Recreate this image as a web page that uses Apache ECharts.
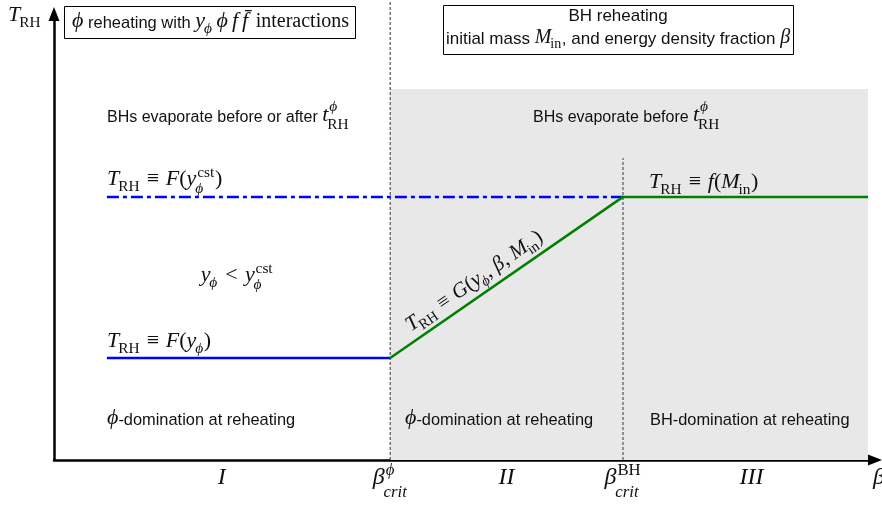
<!DOCTYPE html>
<html>
<head>
<meta charset="utf-8">
<script src="https://cdn.jsdelivr.net/npm/echarts@6/dist/echarts.min.js"></script>
<style>
  html, body { margin: 0; padding: 0; background: #fff; }
  #chart { width: 882px; height: 505px; }
</style>
</head>
<body>
<div id="chart"></div>
<script>
// ---- schematic values (axis units: β runs 0..100, T_RH runs 0..100) ----
const betaMax = 100;
const betaLineStart = 6.5;   // where the T_RH curves begin
const betaCritPhi = 41.3;    // β_crit^ϕ
const betaCritBH = 69.9;     // β_crit^BH
const trhLow = 23.2;         // T_RH ≡ F(y_ϕ)
const trhHigh = 59.8;        // T_RH ≡ F(y_ϕ^cst) = f(M_in)
const shadeTop = 84.3;       // top of the "BHs evaporate before" band
const critBHTop = 68.6;      // end of the β_crit^BH divider
const critPhiTop = 104.5;    // β_crit^ϕ divider runs up past the axis top

const blueLow = [[betaLineStart, trhLow], [betaCritPhi, trhLow]];
const blueCst = [[betaLineStart, trhHigh], [betaCritBH, trhHigh]];
const greenPath = [[betaCritPhi, trhLow], [betaCritBH, trhHigh], [betaMax, trhHigh]];
const critPhiLine = [[betaCritPhi, 0], [betaCritPhi, critPhiTop]];
const critBHLine = [[betaCritBH, 0], [betaCritBH, critBHTop]];
const shadeBox = [[betaCritPhi, shadeTop], [betaMax, 0]];

// β-axis labels: regions I, II, III and the two critical values
const tickValues = [20.6, betaCritPhi, 55.6, betaCritBH, 85.7, 101.1];
const tickLabels = [
  [{ t: 'I' }],
  [{ t: 'β', sup: { t: 'ϕ', k: 'mi' }, sub: { t: 'crit', k: 'mi' }, subDy: 0.52, supDy: -0.42 }],
  [{ t: 'II' }],
  [{ t: 'β', sup: { t: 'BH', k: 'rm' }, sub: { t: 'crit', k: 'mi' }, subDy: 0.52, supDy: -0.42 }],
  [{ t: 'III' }],
  [{ t: 'β' }]
];

// ---- text helpers: small inline-math layout built from zrender text pieces ----
const SERIF = '"Liberation Serif", "DejaVu Serif", serif';
const SANS = '"Liberation Sans", "DejaVu Sans", sans-serif';
const INK = '#111';
const MATH = 22, SANSZ = 16.4, TICK = 24;
const TOP = 100;
const mctx = document.createElement('canvas').getContext('2d');

function fontOf(k, size) {
  const style = k === 'mi' ? 'italic ' : '';
  const fam = k === 'sf' ? SANS : SERIF;
  return style + size + 'px ' + fam;
}
function textW(t, font) { mctx.font = font; return mctx.measureText(t).width; }
function glyph(t, font, size, x, base) {
  return {
    type: 'text', x: x, y: base - 0.34 * size, silent: true, z: TOP,
    style: { text: t, font: font, fill: INK, align: 'left', verticalAlign: 'middle' }
  };
}
function mathRun(parts, size, sansSize) {
  const kids = [];
  let x = 0;
  parts.forEach(p => {
    if (p.sp) { x += p.sp * size; return; }
    const k = p.k || 'mi';
    const sz = p.z || (k === 'sf' ? (sansSize || SANSZ) : size);
    const f = fontOf(k, sz);
    kids.push(glyph(p.t, f, sz, x, 0));
    x += textW(p.t, f);
    const ss = sz * 0.7;
    const both = p.sub && p.sup;
    let sw = 0;
    if (p.sub) {
      const sf = fontOf(p.sub.k || 'rm', ss);
      const dx = k === 'mi' ? -0.05 * sz : 0;
      const dy = p.subDy != null ? p.subDy : (both ? 0.32 : 0.22);
      kids.push(glyph(p.sub.t, sf, ss, x + dx, dy * sz));
      sw = Math.max(sw, textW(p.sub.t, sf) + dx);
    }
    if (p.sup) {
      const sf = fontOf(p.sup.k || 'rm', ss);
      const dx = 0.04 * sz;
      const dy = p.supDy != null ? p.supDy : -0.42;
      kids.push(glyph(p.sup.t, sf, ss, x + dx, dy * sz));
      sw = Math.max(sw, textW(p.sup.t, sf) + dx);
    }
    x += sw + ((p.sub || p.sup) ? 0.03 * sz : 0);
  });
  return { kids: kids, width: x };
}
function label(parts, x, base, opts) {
  opts = opts || {};
  const run = mathRun(parts, opts.size || MATH, opts.sansSize);
  let left = x;
  if (opts.align === 'center') left = x - run.width / 2;
  return { el: { type: 'group', x: left, y: base, z: TOP, rotation: opts.rotation || 0, children: run.kids }, width: run.width, left: left };
}

// common pieces
const TRH = { t: 'T', sub: { t: 'RH', k: 'rm' } };
const EQUIV = [{ sp: 0.05 }, { t: ' ≡ ', k: 'rm' }, { sp: 0.05 }];
const LP = { t: '(', k: 'rm' }, RP = { t: ')', k: 'rm' };
const yPhi = { t: 'y', sub: { t: 'ϕ', k: 'mi' } };
const yPhiCst = { t: 'y', sub: { t: 'ϕ', k: 'mi' }, sup: { t: 'cst', k: 'rm' } };
const Min = { t: 'M', sub: { t: 'in', k: 'rm' } };
const tRH = { t: 't', sup: { t: 'ϕ', k: 'mi' }, sub: { t: 'RH', k: 'rm' }, subDy: 0.34, supDy: -0.5 };

const chart = echarts.init(document.getElementById('chart'), null, { renderer: 'canvas' });

const axisCommon = {
  type: 'value', min: 0, max: 100,
  axisTick: { show: false }, axisLabel: { show: false }, splitLine: { show: false }
};

chart.setOption({
  animation: false,
  backgroundColor: '#fff',
  grid: { left: 54, right: 14, top: 20, bottom: 45, outerBoundsMode: 'none', containLabel: false },
  xAxis: Object.assign({}, axisCommon, {
    max: betaMax,
    axisLine: { show: true, onZero: false, symbol: ['none', 'triangle'], symbolSize: [11, 14], symbolOffset: [0, 7],
      lineStyle: { color: '#000', width: 2.5 } }
  }),
  yAxis: Object.assign({}, axisCommon, {
    axisLine: { show: true, onZero: false, symbol: ['none', 'triangle'], symbolSize: [11, 14], symbolOffset: [0, 6],
      lineStyle: { color: '#000', width: 2.5 } }
  }),
  series: [
    {
      name: 'shade', type: 'line', data: [], z: 0, silent: true,
      markArea: { silent: true, itemStyle: { color: '#e8e8e8' }, data: [[{ coord: shadeBox[0] }, { coord: shadeBox[1] }]] }
    },
    {
      name: 'critPhi', type: 'line', data: critPhiLine, symbol: 'none', clip: false, z: 2, silent: true,
      lineStyle: { color: '#333', width: 1, type: [3, 2] }
    },
    {
      name: 'critBH', type: 'line', data: critBHLine, symbol: 'none', z: 2, silent: true,
      lineStyle: { color: '#333', width: 1, type: [3, 2] }
    },
    {
      name: 'F(y_cst)', type: 'line', data: blueCst, symbol: 'none', z: 3, silent: true,
      lineStyle: { color: '#0000ff', width: 2.5, type: [12, 4, 4, 4], cap: 'butt' }
    },
    {
      name: 'F(y)', type: 'line', data: blueLow, symbol: 'none', z: 3, silent: true,
      lineStyle: { color: '#0000ff', width: 2.5 }
    },
    {
      name: 'G / f(M_in)', type: 'line', data: greenPath, symbol: 'none', z: 4, silent: true,
      lineStyle: { color: '#008000', width: 2.5 }
    }
  ]
});

// ---- annotations ----
const g = [];
const px = (v) => chart.convertToPixel({ gridIndex: 0 }, v);

// y-axis name
g.push(label([TRH], 8, 23).el);

// scenario boxes
const box1 = label([
  { t: 'ϕ' }, { t: ' reheating with ', k: 'sf' }, yPhi, { sp: 0.18 }, { t: 'ϕ' }, { sp: 0.18 }, { t: 'f' }, { sp: 0.18 },
  { t: 'f\u0304' }, { sp: 0.12 }, { t: ' interactions', k: 'rm', z: 20 }
], 72, 29, { size: 22, sansSize: 16.5 });
g.push(box1.el);
g.push({ type: 'rect', silent: true, z: TOP, shape: { x: 64.5, y: 6.5, width: Math.round(box1.width + 14), height: 32 },
  style: { fill: 'none', stroke: '#000', lineWidth: 1 } });

const box2a = label([{ t: 'BH reheating', k: 'sf' }], 618, 22, { align: 'center', sansSize: 17 });
const box2b = label([
  { t: 'initial mass ', k: 'sf' }, Min, { t: ', and energy density fraction ', k: 'sf' }, { t: 'β' }
], 618, 45, { align: 'center', sansSize: 17, size: 20 });
g.push(box2a.el, box2b.el);
g.push({ type: 'rect', silent: true, z: TOP, shape: { x: Math.round(box2b.left - 3) + 0.5, y: 5.5, width: Math.round(box2b.width + 6), height: 49 },
  style: { fill: 'none', stroke: '#000', lineWidth: 1 } });

// region statements
g.push(label([{ t: 'BHs evaporate before or after ', k: 'sf' }, tRH], 107, 123, { sansSize: 16 }).el);
g.push(label([{ t: 'BHs evaporate before ', k: 'sf' }, tRH], 533, 123, { sansSize: 16 }).el);

// curve labels
g.push(label([TRH].concat(EQUIV, [{ t: 'F' }, LP, yPhiCst, RP]), 107, 187).el);
g.push(label([TRH].concat(EQUIV, [{ t: 'f' }, LP, Min, RP]), 649, 190).el);
g.push(label([yPhi, { sp: 0.08 }, { t: ' < ', k: 'rm' }, { sp: 0.08 }, yPhiCst], 237, 283, { align: 'center' }).el);
g.push(label([TRH].concat(EQUIV, [{ t: 'F' }, LP, yPhi, RP]), 107, 349).el);

// sloped label along the G branch
{
  const p0 = px([betaCritPhi, trhLow]);
  const p1 = px([betaCritBH, trhHigh]);
  const dx = p1[0] - p0[0], dy = p1[1] - p0[1];
  const len = Math.hypot(dx, dy);
  const ux = dx / len, uy = dy / len;          // along the line
  const nx = uy, ny = -ux;                      // normal pointing up-left
  const along = 32, off = 8;
  const ox = p0[0] + ux * along + nx * off;
  const oy = p0[1] + uy * along + ny * off;
  g.push(label([TRH].concat(EQUIV, [{ t: 'G' }, LP, yPhi, { t: ', ', k: 'rm' }, { t: 'β' }, { t: ', ', k: 'rm' }, Min, RP]),
    ox, oy, { rotation: Math.atan2(-dy, dx), size: 21 }).el);
}

// domination statements
g.push(label([{ t: 'ϕ' }, { t: '-domination at reheating', k: 'sf' }], 107, 426).el);
g.push(label([{ t: 'ϕ' }, { t: '-domination at reheating', k: 'sf' }], 405, 426).el);
g.push(label([{ t: 'BH-domination at reheating', k: 'sf' }], 650, 426).el);

// β-axis labels
tickValues.forEach((v, i) => {
  const p = px([v, 0]);
  const last = i === tickValues.length - 1;
  g.push(label(tickLabels[i], last ? p[0] - 4 : p[0], 486, { size: TICK, align: last ? 'left' : 'center' }).el);
});

chart.setOption({ graphic: { elements: g } });
</script>
</body>
</html>
